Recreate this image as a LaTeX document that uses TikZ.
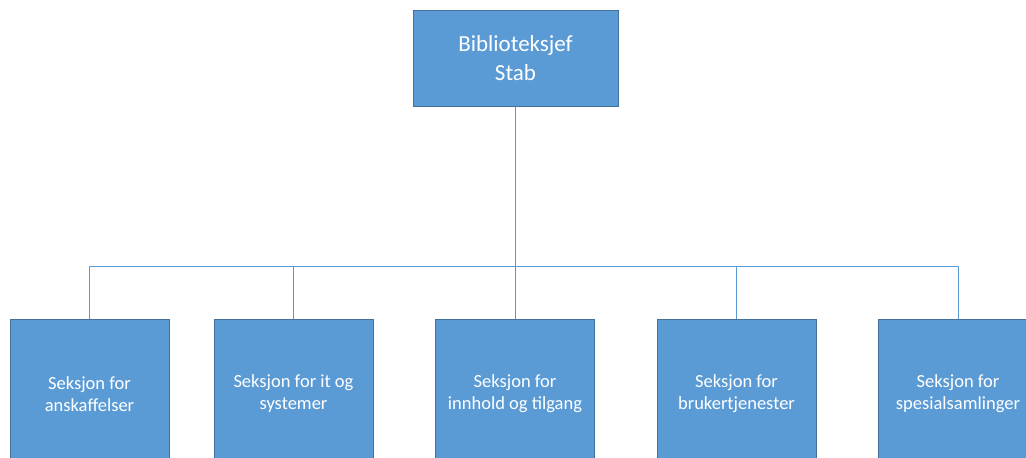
\documentclass[tikz,border=0pt]{standalone}
\usepackage{fontspec}
\setmainfont{Carlito}
\usetikzlibrary{positioning}

\begin{document}
\begin{tikzpicture}[x=1pt,y=-1pt]

    % Define styles
    \tikzset{
        unit box/.style={draw=boxedge, fill=boxfill, line width=1pt, text=white,
            align=center, inner sep=0pt, minimum width=159pt},
        chief box/.style={unit box, minimum width=205pt, minimum height=96pt,
            font=\fontsize{23}{29}\selectfont},
        section box/.style={unit box, minimum height=150pt,
            font=\fontsize{18.5}{22}\selectfont},
        org line/.style={draw=boxfill, line width=1pt}
    }
    \definecolor{boxfill}{HTML}{5B9BD5}
    \definecolor{boxedge}{HTML}{41719C}

    % Page frame
    \useasboundingbox (0,0) rectangle (1026,458);

    % Top of the chart
    \node[chief box] (chef) at (515.5,58.5) {Biblioteksjef\\Stab};

    % Sections
    \node[section box, anchor=north] (anskaff) at (89.5,318.5) {Seksjon for\\anskaffelser};
    \node[section box, anchor=north] (itsys) at (293.5,318.5) {Seksjon for it og\\systemer};
    \node[section box, anchor=north] (innhold) at (515,318.5) {Seksjon for\\innhold og tilgang};
    \node[section box, anchor=north] (bruker) at (736.5,318.5) {Seksjon for\\brukertjenester};
    \node[section box, anchor=north] (spesial) at (958,318.5) {Seksjon for\\spesialsamlinger};

    % Branch level
    \coordinate (branch) at (515,266);

    % Connectors
    \foreach \sec in {anskaff,itsys,innhold,bruker,spesial} {
        \draw[org line] (chef.south) -- (chef.south |- branch) -| (\sec.north);
    }

\end{tikzpicture}
\end{document}
